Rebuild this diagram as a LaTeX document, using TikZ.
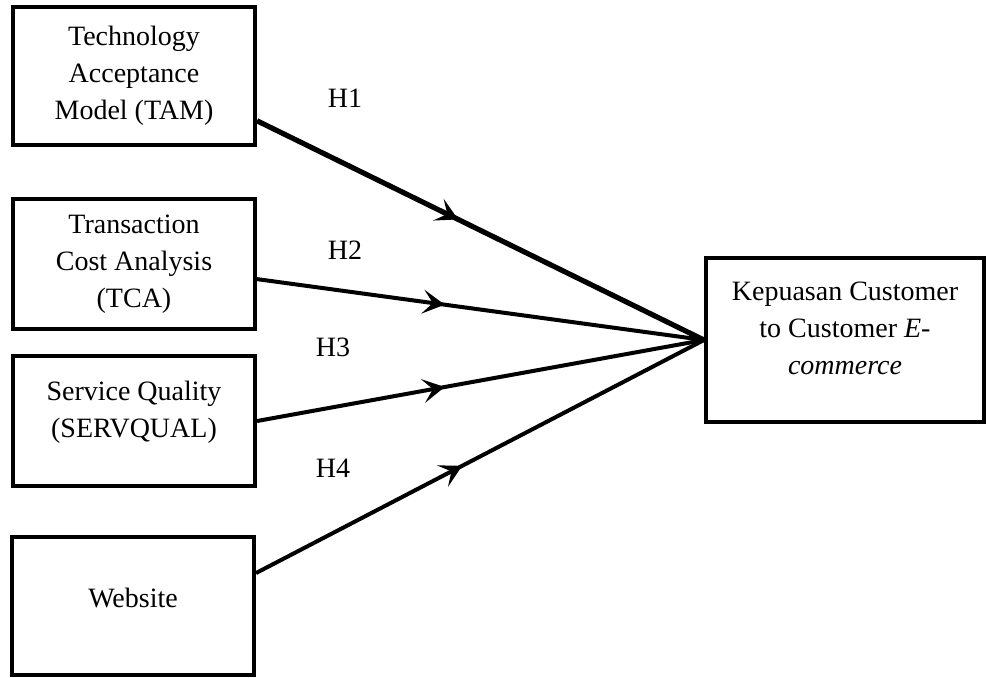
\documentclass[tikz,border=0pt]{standalone}
\usepackage{fontspec}
\setmainfont{Liberation Serif}
\usepackage{tikz}
\usetikzlibrary{arrows.meta,decorations.markings}
\tikzset{
  var/.style={draw, line width=2pt, align=center, minimum width=121pt,
              font=\fontsize{14}{18.5}\selectfont, fill=white},
  hlbl/.style={font=\fontsize{14}{17}\selectfont},
  conn/.style={line width=2pt, postaction={decorate},
               decoration={markings, mark=at position #1 with
               {\arrow{Stealth[length=11pt,width=12pt,inset=5pt]}}}},
  conn/.default=0.44,
}
\begin{document}
\begin{tikzpicture}[x=0.5pt,y=-0.5pt]
    \useasboundingbox (0,0) rectangle (986,677);
    \node[var, minimum height=69pt] (tam) at (134,76) {Technology\\Acceptance\\Model (TAM)};
    \node[var, minimum height=65pt] (tca) at (134,264) {Transaction\\Cost Analysis\\(TCA)};
    \node[var, minimum height=65pt] (sq) at (134,421) {Service Quality\\(SERVQUAL)\\[-7pt]\mbox{}};
    \node[var, minimum height=69pt] (web) at (133,606) {Website\\[-10pt]\mbox{}};
    \node[var, minimum width=139pt, minimum height=82pt] (kep) at (845,340)
      {Kepuasan Customer\\to Customer \textit{E}-\\\textit{commerce}\\[-7pt]\mbox{}};
    \node[hlbl] (h1) at (345,98) {H1};
    \node[hlbl] (h2) at (345,250) {H2};
    \node[hlbl] (h3) at (333,347) {H3};
    \node[hlbl] (h4) at (333,468) {H4};
    \draw[conn=0.45, line width=2.6pt] (tam.-20) -- (kep.west);
    \draw[conn=0.42] (tca.-7) -- (kep.west);
    \draw[conn=0.42] (sq.east) -- (kep.west);
    \draw[conn=0.46] (web.15) -- (kep.west);
  \end{tikzpicture}
\end{document}
